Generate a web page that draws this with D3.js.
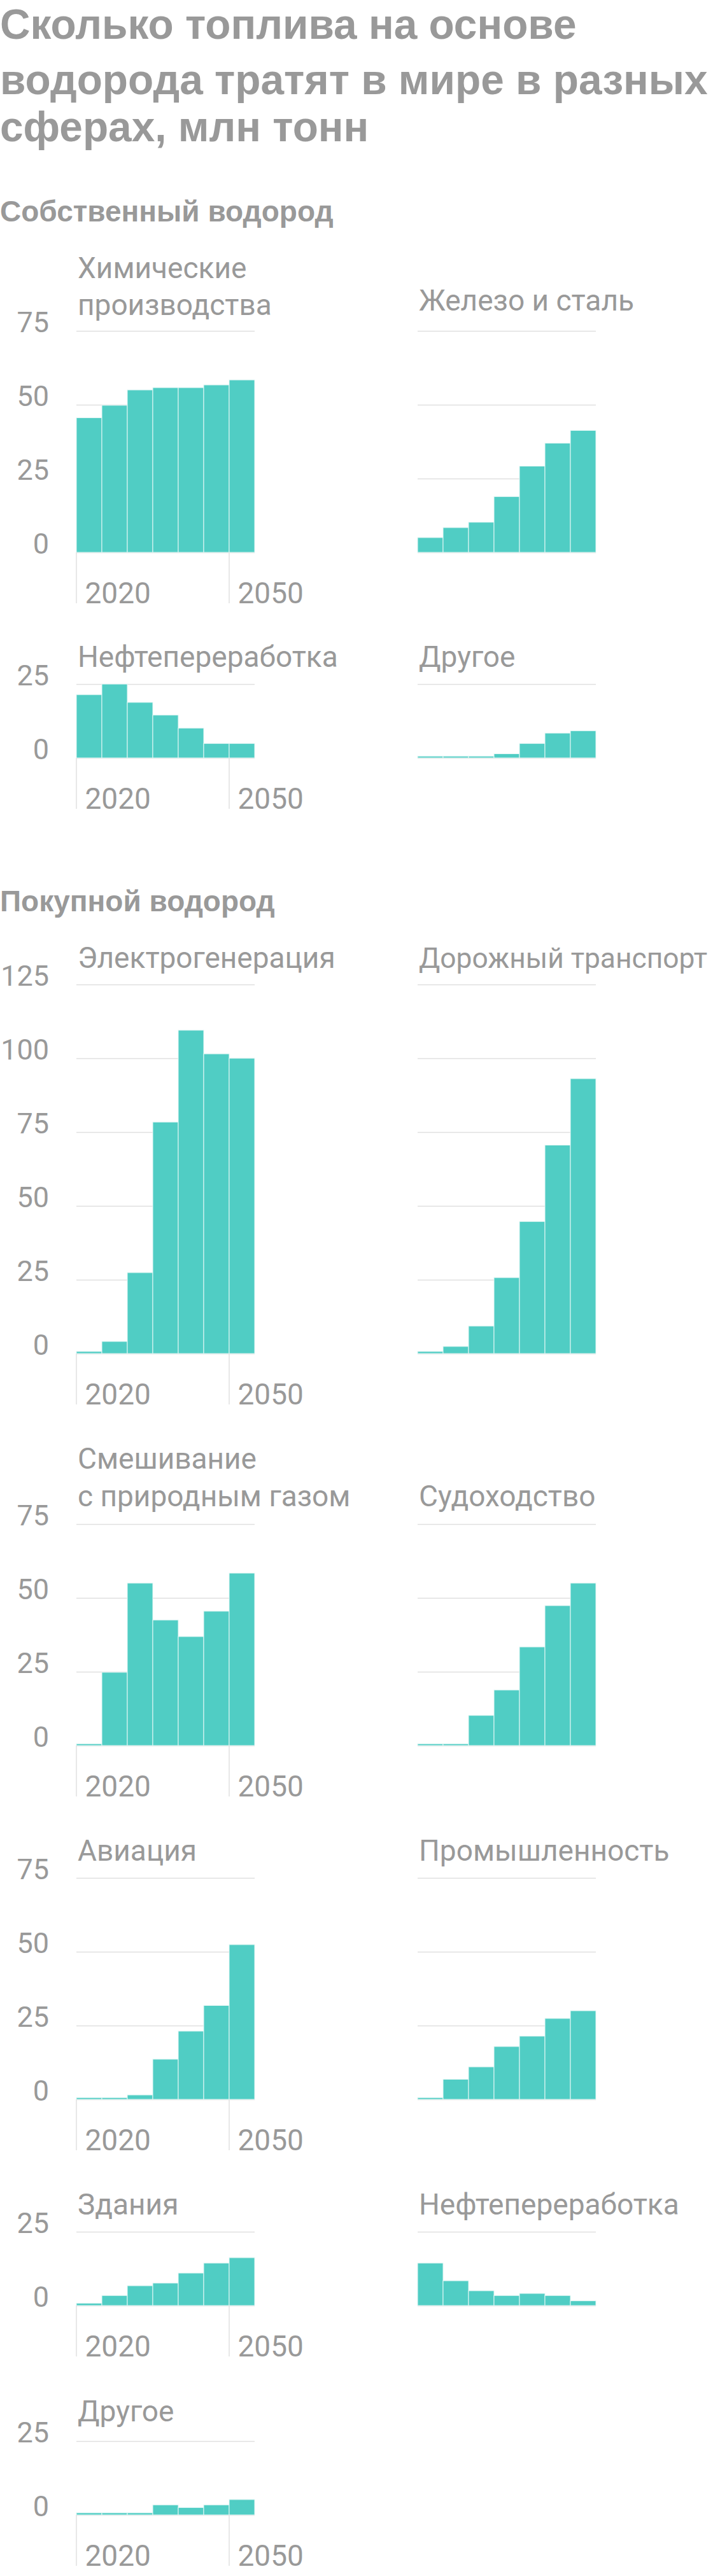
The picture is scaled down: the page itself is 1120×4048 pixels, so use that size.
<!DOCTYPE html>
<html>
<head>
<meta charset="utf-8">
<script src="https://cdn.jsdelivr.net/npm/d3@7"></script>
<style>
  html, body { margin: 0; padding: 0; background: #fff; }
  svg { display: block; }
</style>
</head>
<body>
<script>
// ---------- DATA ----------
const years = [2020, 2025, 2030, 2035, 2040, 2045, 2050];
const yearTicks = [2020, 2050];
const titleLines = ["Сколько топлива на основе", "водорода тратят в мире в разных", "сферах, млн тонн"];
const sectionTitles = ["Собственный водород", "Покупной водород"];

const ticks75 = [0, 25, 50, 75];
const ticks125 = [0, 25, 50, 75, 100, 125];
const ticks25 = [0, 25];

// own hydrogen
const chemicals      = [45.6, 49.8, 55.0, 55.8, 55.8, 56.7, 58.4];
const ironSteel      = [5.0, 8.4, 10.2, 18.9, 29.2, 37.0, 41.3];
const refiningOwn    = [21.4, 25.0, 18.8, 14.5, 10.1, 4.9, 4.9];
const otherOwn       = [0.6, 0.6, 0.6, 1.4, 4.9, 8.4, 9.2];
// purchased hydrogen
const powerGen       = [0.7, 4.1, 27.4, 78.4, 109.5, 101.5, 100.0];
const roadTransport  = [0.7, 2.4, 9.3, 25.7, 44.7, 70.6, 93.1];
const gasBlending    = [0.6, 24.8, 55.0, 42.5, 36.9, 45.5, 58.4];
const shipping       = [0.6, 0.6, 10.2, 18.8, 33.4, 47.4, 55.0];
const aviation       = [0.6, 0.6, 1.5, 13.6, 23.1, 31.8, 52.4];
const industry       = [0.6, 6.8, 11.0, 17.9, 21.4, 27.4, 30.0];
const buildings      = [0.8, 3.4, 6.7, 7.6, 11.0, 14.4, 16.2];
const refiningBought = [14.4, 8.4, 5.0, 3.4, 4.1, 3.4, 1.6];
const otherBought    = [0.7, 0.7, 0.7, 3.4, 2.5, 3.4, 5.2];

const chartNames = {
  chemicals: ["Химические", "производства"],
  ironSteel: ["Железо и сталь"],
  refiningOwn: ["Нефтепереработка"],
  otherOwn: ["Другое"],
  powerGen: ["Электрогенерация"],
  roadTransport: ["Дорожный транспорт"],
  gasBlending: ["Смешивание", "с природным газом"],
  shipping: ["Судоходство"],
  aviation: ["Авиация"],
  industry: ["Промышленность"],
  buildings: ["Здания"],
  refiningBought: ["Нефтепереработка"],
  otherBought: ["Другое"]
};

// ---------- LAYOUT ----------
const W = 1120, H = 4048;
const GRAY = "#999999";
const BAR = "#50cdc4";
const GRID = "#e0e0e0";
const PX_PER_UNIT = 4.64;
const LEFT_X = 120, RIGHT_X = 656, PLOT_W = 280;

const rows = [
  { y0: 868,  ticks: ticks75,  left: { key: "chemicals", data: chemicals, labelY: [437, 495] },
                               right: { key: "ironSteel", data: ironSteel, labelY: [488] } },
  { y0: 1191, ticks: ticks25,  left: { key: "refiningOwn", data: refiningOwn, labelY: [1048] },
                               right: { key: "otherOwn", data: otherOwn, labelY: [1048] } },
  { y0: 2127, ticks: ticks125, left: { key: "powerGen", data: powerGen, labelY: [1521] },
                               right: { key: "roadTransport", data: roadTransport, labelY: [1521] } },
  { y0: 2743, ticks: ticks75,  left: { key: "gasBlending", data: gasBlending, labelY: [2308, 2367] },
                               right: { key: "shipping", data: shipping, labelY: [2367] } },
  { y0: 3299, ticks: ticks75,  left: { key: "aviation", data: aviation, labelY: [2924] },
                               right: { key: "industry", data: industry, labelY: [2924] } },
  { y0: 3623, ticks: ticks25,  left: { key: "buildings", data: buildings, labelY: [3480] },
                               right: { key: "refiningBought", data: refiningBought, labelY: [3480] } },
  { y0: 3952, ticks: ticks25,  left: { key: "otherBought", data: otherBought, labelY: [3805] } }
];

const svg = d3.select("body").append("svg")
  .attr("width", W).attr("height", H)
  .attr("viewBox", `0 0 ${W} ${H}`);

// title
const titleBaselines = [61, 148, 222];
const titleTexts = svg.append("g").selectAll("text").data(titleLines).join("text")
  .attr("x", 0).attr("y", (d, i) => titleBaselines[i])
  .attr("font-family", "'Liberation Sans', Arial, sans-serif")
  .attr("font-weight", 700).attr("font-size", 67)
  .attr("fill", GRAY)
  .text(d => d);
const maxTitleW = d3.max(titleTexts.nodes(), n => n.getComputedTextLength());
if (maxTitleW > 1112) {
  titleTexts.attr("font-size", 67 * 1112 / maxTitleW);
}

// section headers
const sectionBaselines = [348, 1432];
svg.append("g").selectAll("text").data(sectionTitles).join("text")
  .attr("x", 0).attr("y", (d, i) => sectionBaselines[i])
  .attr("font-family", "'Liberation Sans', Arial, sans-serif")
  .attr("font-weight", 700).attr("font-size", 46)
  .attr("fill", GRAY)
  .text(d => d);

function drawChart(spec, x0, y0, ticks, isLeft) {
  const maxV = d3.max(ticks);
  const x = d3.scaleBand().domain(years).range([x0, x0 + PLOT_W]).padding(0);
  const y = d3.scaleLinear().domain([0, maxV]).range([y0, y0 - maxV * PX_PER_UNIT]);
  const g = svg.append("g");

  // gridlines + value labels
  g.append("g").call(
      d3.axisLeft(y).tickValues(ticks).tickSize(-PLOT_W).tickFormat(isLeft ? d3.format("d") : () => "")
    )
    .attr("transform", `translate(${x0},0)`)
    .call(a => a.select(".domain").remove())
    .call(a => a.selectAll(".tick line").attr("stroke", GRID).attr("stroke-width", 1.5))
    .call(a => a.selectAll(".tick text")
      .attr("x", 77 - x0)
      .attr("dy", null)
      .attr("y", 1)
      .attr("text-anchor", "end")
      .attr("fill", GRAY)
      .attr("font-family", "Roboto, sans-serif")
      .attr("font-size", 45));

  // bars
  g.append("g").selectAll("rect").data(spec.data).join("rect")
    .attr("x", (d, i) => x(years[i]))
    .attr("width", x.bandwidth())
    .attr("y", d => y(d))
    .attr("height", d => y(0) - y(d))
    .attr("fill", BAR)
    .attr("stroke", "#e4f7f5")
    .attr("stroke-width", 1);

  // x axis (years) only for left charts
  if (isLeft) {
    const xa = g.append("g").attr("transform", `translate(0,${y0})`)
      .call(d3.axisBottom(x).tickValues(yearTicks).tickSize(80).tickFormat(d3.format("d")));
    xa.select(".domain").remove();
    xa.selectAll(".tick").attr("transform", d => `translate(${x(d)},0)`);
    xa.selectAll(".tick line").attr("stroke", GRID).attr("stroke-width", 1.5);
    xa.selectAll(".tick text")
      .attr("x", 13.5).attr("y", 80).attr("dy", null)
      .attr("text-anchor", "start")
      .attr("fill", GRAY)
      .attr("font-family", "Roboto, sans-serif")
      .attr("font-size", 46);
  }

  // chart name
  const names = g.append("g").selectAll("text").data(chartNames[spec.key]).join("text")
    .attr("x", x0 + 2)
    .attr("y", (d, i) => spec.labelY[i])
    .attr("fill", GRAY)
    .attr("font-family", "Roboto, sans-serif")
    .attr("font-size", 46)
    .text(d => d);
  names.each(function () {
    const avail = W - 8 - (x0 + 2);
    const len = this.getComputedTextLength();
    if (len > avail) {
      d3.select(this).attr("font-size", Math.floor(46 * avail / len * 10) / 10);
    }
  });
}

rows.forEach(r => {
  if (r.left) drawChart(r.left, LEFT_X, r.y0, r.ticks, true);
  if (r.right) drawChart(r.right, RIGHT_X, r.y0, r.ticks, false);
});
</script>
</body>
</html>
